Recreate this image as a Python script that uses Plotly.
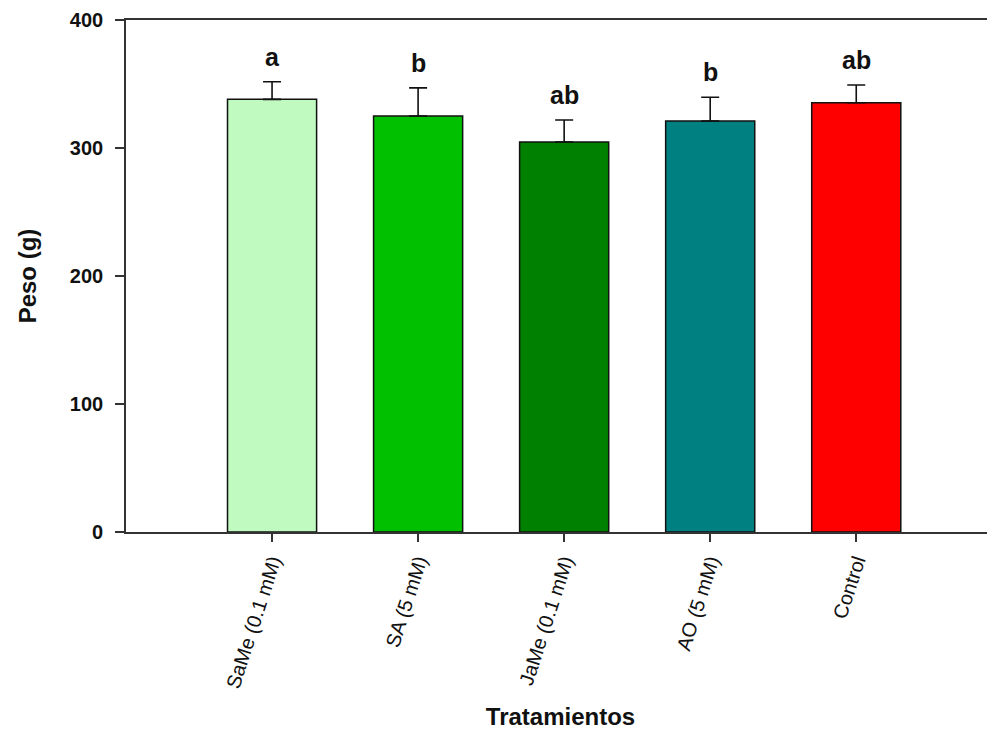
import plotly.graph_objects as go

categories = ["SaMe (0.1 mM)", "SA (5 mM)", "JaMe (0.1 mM)", "AO (5 mM)", "Control"]
means = [338, 325, 304.7, 321, 335.4]
errors = [13.8, 22, 17.2, 18.6, 13.8]
letters = ["a", "b", "ab", "b", "ab"]
colors = ["#c0fac0", "#00c000", "#008000", "#008080", "#ff0000"]
y_ticks = [0, 100, 200, 300, 400]

fig = go.Figure()
fig.add_trace(go.Bar(
    x=categories, y=means, width=0.61,
    marker=dict(color=colors, line=dict(color="#111111", width=1.5)),
    error_y=dict(type="data", array=errors, arrayminus=[0]*len(errors), symmetric=False,
                 color="#111111", thickness=1.6, width=9),
    showlegend=False,
))

for c, m, e, l in zip(categories, means, errors, letters):
    fig.add_annotation(x=c, y=m + e, text=f"<b>{l}</b>", showarrow=False,
                       yanchor="bottom", yshift=9,
                       font=dict(family="Liberation Sans, Arial", size=25, color="#111111"))

fig.update_layout(
    width=987, height=725,
    margin=dict(l=118, r=0, t=12, b=201),
    plot_bgcolor="white", paper_bgcolor="white",
    font=dict(family="Liberation Sans, Arial", color="#111111"),
)
fig.update_xaxes(
    type="category", range=[-1.0, 4.95], automargin=False,
    showline=True, linecolor="#333333", linewidth=1.6, mirror=True,
    ticks="outside", ticklen=8, tickwidth=1.6, tickcolor="#333333",
    tickangle=-72, tickfont=dict(size=20, family="Liberation Sans, Arial", color="#111111"),
    showgrid=False,
    title=dict(text="<b>Tratamientos</b>", font=dict(size=24), standoff=18),
)
fig.update_yaxes(
    range=[0, 400], tickvals=y_ticks, ticktext=[f"<b>{v}</b>" for v in y_ticks],
    automargin=False,
    showline=True, linecolor="#333333", linewidth=1.6,
    ticks="outside", ticklen=9, tickwidth=1.6, tickcolor="#333333",
    ticklabelstandoff=8,
    tickfont=dict(size=20, family="Liberation Sans, Arial", color="#111111"),
    showgrid=False, zeroline=False,
    title=dict(text="<b>Peso (g)</b>", font=dict(size=24), standoff=26),
)

fig.write_html("out.html")
